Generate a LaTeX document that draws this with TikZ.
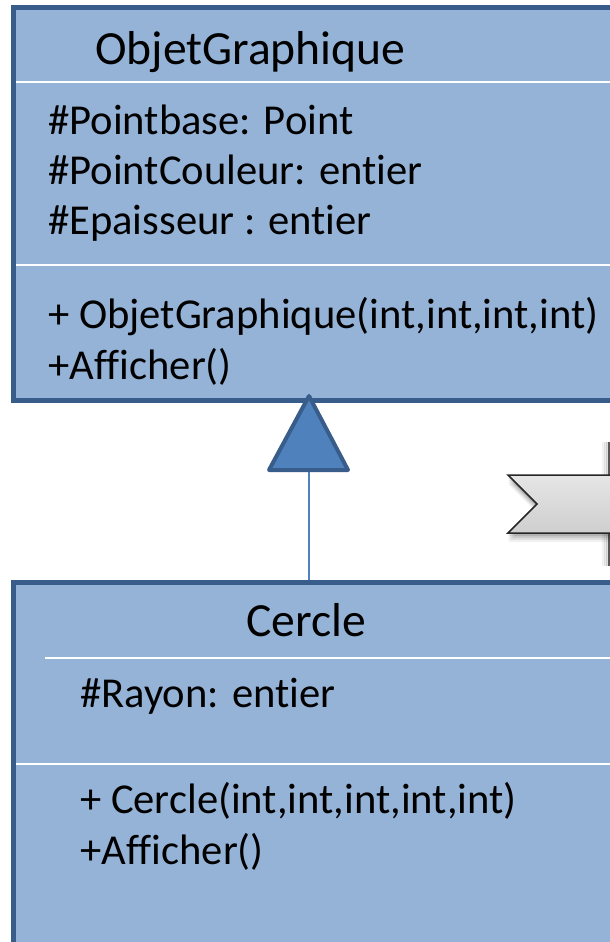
\documentclass[tikz,border=0pt]{standalone}
\usepackage{fontspec}
\setmainfont[Ligatures=NoCommon]{Carlito}
\usetikzlibrary{shadows}
\definecolor{classfill}{HTML}{95B3D7}
\definecolor{classline}{HTML}{385D8A}
\definecolor{arrowfill}{HTML}{4F81BD}
\tikzset{
  classbox/.style={fill=classfill, draw=classline, line width=5pt},
  sepline/.style={draw=white, line width=2pt},
  umltext/.style={anchor=base west, inner sep=0pt, font=\fontsize{42.6}{50}\selectfont},
  umltitle/.style={anchor=base west, inner sep=0pt, font=\fontsize{47.6}{56}\selectfont},
  inherit/.style={fill=arrowfill, draw=classline, line width=4pt, line join=round},
  link/.style={draw=arrowfill, line width=1.6pt},
  chevron/.style={draw=black!85, line width=1.5pt, top color=gray!20, bottom color=gray!38}
}
\begin{document}
\begin{tikzpicture}[x=1pt,y=-1pt]
\useasboundingbox (0,0) rectangle (610,942);
\clip (0,0) rectangle (610,942);
\fill[white] (0,0) rectangle (610,942);

% class ObjetGraphique
\draw[classbox] (13.5,7.5) rectangle (660,400.5);
\draw[sepline] (16,82) -- (660,82);
\draw[sepline] (16,265) -- (660,265);
\node[umltitle] (titre1) at (95,64) {ObjetGraphique};
\node[umltext] (attr1) at (48,134) {\#Pointbase: Point};
\node[umltext] (attr2) at (48,184) {\#PointCouleur: entier};
\node[umltext] (attr3) at (48,234) {\#Epaisseur : entier};
\node[umltext] (meth1) at (48,328) {+ ObjetGraphique(int,int,int,int)};
\node[umltext] (meth2) at (48,379) {+Afficher()};

% class Cercle
\draw[classbox] (13.5,582) rectangle (660,990);
\draw[sepline] (45,658) -- (660,658);
\draw[sepline] (16,764) -- (660,764);
\node[umltitle] (titre2) at (246,636) {Cercle};
\node[umltext] (attr4) at (80,707) {\#Rayon: entier};
\node[umltext] (meth3) at (80,813) {+ Cercle(int,int,int,int,int)};
\node[umltext] (meth4) at (80,864) {+Afficher()};

% generalisation arrow
\coordinate (apex) at (309,396);
\coordinate (base) at (309,470);
\coordinate (cercletop) at (309,580);
\draw[link] (base) -- (cercletop);
\draw[inherit] (apex) -- (269,470) -- (348,470) -- cycle;

% edge of a shape on the right
\foreach \o/\a in {6/0.05,4/0.08,2/0.12}
  \draw[line width=3pt, draw=black, opacity=\a] (609-\o,442) -- (609-\o,566);
\draw[draw=gray!70!black, line width=1.2pt] (609,442) -- (609,566);

% chevron with its shadow
\foreach \o/\a in {9/0.05,7/0.07,5/0.09,3/0.12}
  \fill[black, opacity=\a] (508,475+\o) -- (660,475+\o) -- (660,533+\o) -- (508,533+\o) -- (537,504+\o) -- cycle;
\path[chevron] (508,475) -- (660,475) -- (660,533) -- (508,533) -- (537,504) -- cycle;
\end{tikzpicture}
\end{document}
